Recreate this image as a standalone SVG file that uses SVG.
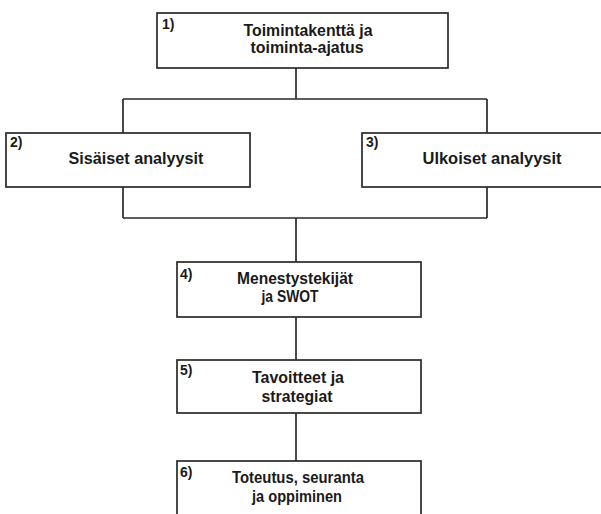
<svg xmlns="http://www.w3.org/2000/svg" width="601" height="514" viewBox="0 0 601 514">
<style>
.box{fill:#fff;stroke:#2a2a2a;stroke-width:1.7}
.ln{fill:none;stroke:#2a2a2a;stroke-width:1.7}
.t{font-family:"Liberation Sans",Arial,sans-serif;font-weight:bold;font-size:16px;fill:#1a1a1a;text-anchor:middle}
.n{font-family:"Liberation Sans",Arial,sans-serif;font-weight:bold;font-size:14px;fill:#1a1a1a}
</style>
<rect width="601" height="514" fill="#fff"/>
<g id="connectors">
<path class="ln" d="M296,68 V99 M123,99 H487 M123,99 V218 M487,99 V218 M123,218 H487 M296,218 V262 M296,317 V360 M296,413 V461"/>
</g>
<g id="n1">
<rect class="box" x="157" y="13" width="291" height="55"/>
<text class="n" x="162" y="29">1)</text>
<text class="t" x="308" y="36" textLength="129" lengthAdjust="spacingAndGlyphs">Toimintakenttä ja</text>
<text class="t" x="307" y="53" textLength="113" lengthAdjust="spacingAndGlyphs">toiminta-ajatus</text>
</g>
<g id="n2">
<rect class="box" x="6" y="133" width="244" height="54"/>
<text class="n" x="10" y="147">2)</text>
<text class="t" x="136" y="164" textLength="135" lengthAdjust="spacingAndGlyphs">Sisäiset analyysit</text>
</g>
<g id="n3">
<rect class="box" x="362" y="133" width="245" height="54"/>
<text class="n" x="366" y="147">3)</text>
<text class="t" x="492" y="164" textLength="139" lengthAdjust="spacingAndGlyphs">Ulkoiset analyysit</text>
</g>
<g id="n4">
<rect class="box" x="177" y="262" width="244" height="55"/>
<text class="n" x="180" y="279">4)</text>
<text class="t" x="295" y="284" textLength="116" lengthAdjust="spacingAndGlyphs">Menestystekijät</text>
<text class="t" x="290" y="302" textLength="57" lengthAdjust="spacingAndGlyphs">ja SWOT</text>
</g>
<g id="n5">
<rect class="box" x="177" y="360" width="244" height="53"/>
<text class="n" x="180" y="375">5)</text>
<text class="t" x="298" y="383" textLength="92" lengthAdjust="spacingAndGlyphs">Tavoitteet ja</text>
<text class="t" x="297" y="402" textLength="71" lengthAdjust="spacingAndGlyphs">strategiat</text>
</g>
<g id="n6">
<rect class="box" x="177" y="461" width="244" height="60"/>
<text class="n" x="180" y="477">6)</text>
<text class="t" x="298" y="483" textLength="132" lengthAdjust="spacingAndGlyphs">Toteutus, seuranta</text>
<text class="t" x="297" y="502" textLength="90" lengthAdjust="spacingAndGlyphs">ja oppiminen</text>
</g>
</svg>
